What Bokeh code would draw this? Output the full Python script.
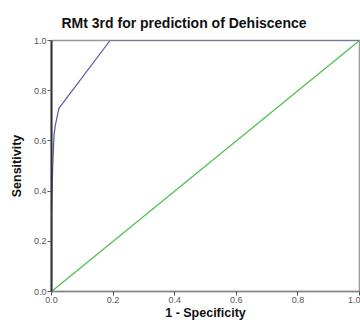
from bokeh.plotting import figure
from bokeh.models import Range1d, FixedTicker, NumeralTickFormatter
from bokeh.embed import file_html
from bokeh.resources import INLINE

# ROC curve (1 - specificity, sensitivity)
roc_fpr = [0.0, 0.0, 0.004, 0.008, 0.012, 0.024, 0.19, 1.0]
roc_tpr = [0.0, 0.30, 0.50, 0.62, 0.66, 0.73, 1.0, 1.0]
# Reference (chance) line
ref_x = [0.0, 1.0]
ref_y = [0.0, 1.0]
ticks = [0.0, 0.2, 0.4, 0.6, 0.8, 1.0]

p = figure(width=360, height=323, output_backend="svg", toolbar_location=None,
           x_range=Range1d(0, 1), y_range=Range1d(0, 1),
           min_border_left=51, min_border_right=1, min_border_top=40, min_border_bottom=32)

p.title.text = "RMt 3rd for prediction of Dehiscence"
p.title.align = "left"
p.title.offset = 10
p.title.standoff = 20
p.title.text_font = "Liberation Sans"
p.title.text_font_size = "14px"
p.title.text_font_style = "bold"
p.title.text_color = "#111111"

p.line(roc_fpr, roc_tpr, line_color="#4d5aa8", line_width=1.2)
p.line(ref_x, ref_y, line_color="#4cbf4c", line_width=1.2)

p.xgrid.visible = False
p.ygrid.visible = False
p.outline_line_color = "#999999"
p.outline_line_width = 1.5

for ax in (p.xaxis[0], p.yaxis[0]):
    ax.ticker = FixedTicker(ticks=ticks)
    ax.formatter = NumeralTickFormatter(format="0.0")
    ax.minor_tick_line_color = None
    ax.major_tick_out = 4
    ax.major_tick_in = 0
    ax.major_label_text_font = "Liberation Sans"
    ax.major_label_text_font_size = "9px"
    ax.major_label_text_color = "#555555"
    ax.axis_label_text_font = "Liberation Sans"
    ax.axis_label_text_font_size = "12.5px"
    ax.axis_label_text_font_style = "bold"
    ax.axis_label_text_color = "#111111"
    ax.major_label_standoff = 1

p.xaxis.axis_label = "1 - Specificity"
p.yaxis.axis_label = "Sensitivity"
p.xaxis.axis_line_color = "#888888"
p.xaxis.axis_line_width = 1.5
p.xaxis.major_tick_line_color = "#555555"
p.yaxis.axis_line_color = "#333333"
p.yaxis.axis_line_width = 2
p.yaxis.major_tick_line_color = "#555555"
p.xaxis.axis_label_standoff = 0
p.yaxis.axis_label_standoff = 7

open("out.html", "w").write(file_html(p, INLINE))
